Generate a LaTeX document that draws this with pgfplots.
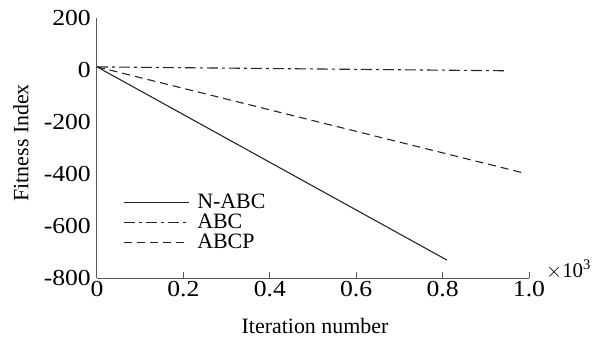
\documentclass[border=0pt]{standalone}
\usepackage{pgfplots}
\pgfplotsset{compat=1.18}
\usepackage{fontspec}
\setmainfont{Liberation Serif}
\newfontfamily\tickfont{Liberation Serif}[FakeStretch=1.12]
\begin{document}
\begin{tikzpicture}
\begin{axis}[
  scale only axis,
  width=432bp, height=260bp,
  xmin=0, xmax=1.0, ymin=-800, ymax=200,
  axis lines*=left,
  axis line style={line width=1bp, color=black!65},
  xtick={0,0.2,0.4,0.6,0.8,1.0},
  xticklabels={0,0.2,0.4,0.6,0.8,1.0},
  ytick={-800,-600,-400,-200,0,200},
  yticklabels={-800,-600,-400,-200,0,200},
  tick align=inside,
  major tick length=6bp,
  xtick style={line width=1bp, color=black!65},
  ytick style={draw=none},
  tick label style={font=\tickfont\fontsize{23}{23}\selectfont},
  xticklabel style={inner sep=1bp, yshift=-2bp},
  yticklabel style={inner sep=2bp, xshift=-4bp},
  xlabel={Iteration number},
  ylabel={Fitness Index},
  every axis x label/.style={at={([xshift=2bp,yshift=-55bp]rel axis cs:0.5,0)}, anchor=base, font=\fontsize{22}{22}\selectfont},
  every axis y label/.style={at={([xshift=-76bp]rel axis cs:0,0.52)}, rotate=90, anchor=center, font=\fontsize{22}{22}\selectfont},
  legend style={draw=none, fill=none, at={([xshift=26bp,yshift=-174bp]rel axis cs:0,1)}, anchor=north west,
    font=\fontsize{22}{22}\selectfont, inner sep=0pt, row sep=0bp,
    legend cell align=left},
  legend image code/.code={\draw[#1] (0bp,0bp) -- (65bp,0bp); \path (71bp,0bp);},
  clip=false,
]
\addplot[black!85, line width=1.1bp] coordinates {(0,12) (0.81,-731)};
\addlegendentry{N-ABC}
\addplot[black!85, line width=1.1bp, dash pattern=on 11bp off 4bp on 3bp off 4bp] coordinates {(0,12) (0.949,-3)};
\addlegendentry{ABC}
\addplot[black!85, line width=1.1bp, dash pattern=on 8bp off 5bp] coordinates {(0,12) (0.985,-395)};
\addlegendentry{ABCP}
\node[anchor=base west, font=\fontsize{21}{21}\selectfont, inner sep=0pt] at ([xshift=17bp,yshift=1bp]rel axis cs:1,0) {$\times$10\textsuperscript{3}};
\coordinate (bl) at ([xshift=-97bp,yshift=-60bp]rel axis cs:0,0);
\coordinate (tr) at ([xshift=64bp,yshift=18bp]rel axis cs:1,1);
\end{axis}
\pgfresetboundingbox
\path[use as bounding box] (bl) rectangle (tr);
\end{tikzpicture}
\end{document}
